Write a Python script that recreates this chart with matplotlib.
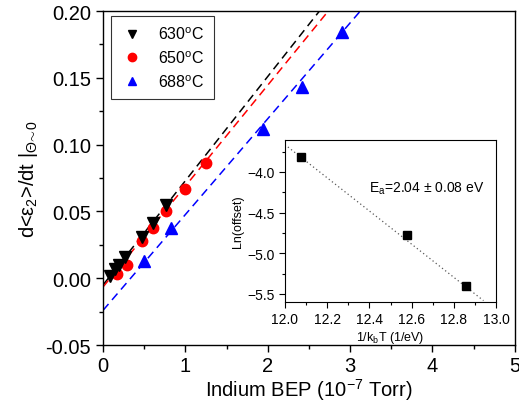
import numpy as np
import matplotlib.pyplot as plt

plt.rcParams['font.family'] = ['Liberation Sans', 'DejaVu Sans']
plt.rcParams['mathtext.fontset'] = 'custom'
plt.rcParams['mathtext.rm'] = 'Liberation Sans'
plt.rcParams['mathtext.it'] = 'Liberation Sans'

# Main data: growth-rate slope vs indium BEP
x_630 = [0.085, 0.15, 0.19, 0.27, 0.47, 0.61, 0.77]
y_630 = [0.002, 0.007, 0.010, 0.016, 0.031, 0.041, 0.055]
x_650 = [0.17, 0.29, 0.47, 0.61, 0.77, 0.99, 1.25]
y_650 = [0.003, 0.010, 0.028, 0.038, 0.050, 0.067, 0.086]
x_688 = [0.50, 0.83, 1.94, 2.41, 2.90]
y_688 = [0.013, 0.038, 0.112, 0.143, 0.184]

# linear fits (slope, intercept) per temperature
fit_slopes = [0.078, 0.0755, 0.0717]
fit_offsets = [-0.005, -0.0065, -0.024]

# Inset: Arrhenius plot
inv_kT = [12.076, 12.578, 12.858]
ln_offset = [-3.82, -4.78, -5.40]
Ea = 2.04
fit_x = [12.014, 12.94]

fig = plt.figure(figsize=(5.19, 4.14), dpi=100)
ax = fig.add_axes([0.1985, 0.164, 0.7935, 0.807])

colors = ['black', 'red', 'blue']
fx = np.linspace(0, 3.5, 50)
for s, b, c in zip(fit_slopes, fit_offsets, colors):
    ax.plot(fx, s * fx + b, ls=(0, (5.5, 3.5)), color=c, lw=1.1, zorder=1)

ax.plot(x_630, y_630, 'v', color='black', ms=8, ls='none', label='630$^{\\rm o}$C', zorder=3)
ax.plot(x_650, y_650, 'o', color='red', ms=7.5, ls='none', label='650$^{\\rm o}$C', zorder=2)
ax.plot(x_688, y_688, '^', color='blue', ms=8, ls='none', label='688$^{\\rm o}$C', zorder=2)

ax.set_xlim(0, 5)
ax.set_ylim(-0.05, 0.20)
ax.set_xticks([0, 1, 2, 3, 4, 5])
ax.set_xticks(np.arange(0.5, 5, 1), minor=True)
ax.set_yticks([-0.05, 0.00, 0.05, 0.10, 0.15, 0.20])
ax.set_yticks(np.arange(-0.025, 0.2, 0.05), minor=True)
ax.set_yticklabels(['-0.05', '0.00', '0.05', '0.10', '0.15', '0.20'])
ax.tick_params(which='major', length=5, width=1, labelsize=14.5)
ax.tick_params(axis='x', which='major', pad=2.5)
ax.tick_params(which='minor', length=3, width=1)
for sp in ax.spines.values():
    sp.set_linewidth(1.0)

ax.set_xlabel('Indium BEP (10$^{-7}$ Torr)', fontsize=14.5, labelpad=1)
ax.set_ylabel(r'd<$\varepsilon_2$>/dt $|_{\Theta\!\sim\!0}$', fontsize=14.5, labelpad=4)

leg = ax.legend(loc='upper left', bbox_to_anchor=(0.02, 0.985), fontsize=11.5,
                frameon=True, fancybox=False, edgecolor='black', handletextpad=0.9,
                borderpad=0.6, labelspacing=0.45, handlelength=1.4, markerscale=0.8,
                borderaxespad=0.0)
leg.get_frame().set_linewidth(0.8)

# inset
ins = fig.add_axes([0.549, 0.268, 0.407, 0.391])
lx = np.array(fit_x)
ins.plot(lx, ln_offset[0] - Ea * (lx - inv_kT[0]), ls=(0, (1, 2.2)),
         color='0.35', lw=0.9)
ins.plot(inv_kT, ln_offset, 's', color='black', ms=6)
ins.set_xlim(12.0, 13.0)
ins.set_ylim(-5.60, -3.61)
ins.set_xticks([12.0, 12.2, 12.4, 12.6, 12.8, 13.0])
ins.set_xticks(np.arange(12.1, 13.0, 0.2), minor=True)
ins.set_yticks([-4.0, -4.5, -5.0, -5.5])
ins.set_yticks([-3.75, -4.25, -4.75, -5.25], minor=True)
ins.tick_params(which='major', length=4, width=0.8, labelsize=10)
ins.tick_params(which='minor', length=2, width=0.8)
for sp in ins.spines.values():
    sp.set_linewidth(0.8)
ins.set_xlabel('1/k$_{\\rm b}$T (1/eV)', fontsize=9, labelpad=2)
ins.set_ylabel('Ln(offset)', fontsize=9, labelpad=2)
ins.text(12.4, -4.19, 'E$_{\\rm a}$=2.04 $\\pm$ 0.08 eV', fontsize=10, va='center')

fig.savefig('out.png', dpi=100)
